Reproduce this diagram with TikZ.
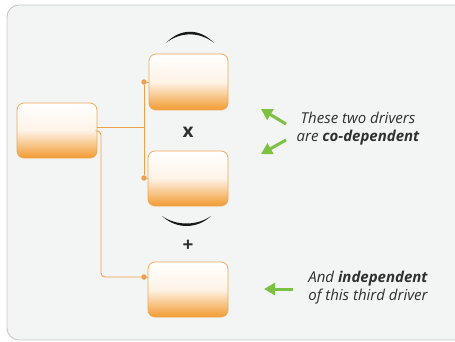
\documentclass[tikz,border=0pt]{standalone}
\usepackage{fontspec}
\setmainfont{Open Sans}
\usetikzlibrary{arrows.meta}
\definecolor{panelfill}{HTML}{F3F4F4}
\definecolor{panelline}{HTML}{C6C8C8}
\definecolor{boxorange}{HTML}{F29A30}
\definecolor{boxline}{HTML}{F2AA55}
\definecolor{wire}{HTML}{F0A048}
\definecolor{leafgreen}{HTML}{7CC142}
\definecolor{textgray}{HTML}{303030}
\tikzset{
  driver/.style={rounded corners=7pt, draw=boxline, line width=0.8pt,
    minimum width=80pt, minimum height=55pt, inner sep=0pt,
    top color=white, bottom color=boxorange, middle color=white!88!boxorange},
  wireline/.style={draw=wire, line width=0.9pt},
  joint/.style={circle, fill=wire, inner sep=0pt, minimum size=5.5pt},
  hint/.style={draw=leafgreen, line width=3pt,
    -{Triangle[width=12pt,length=11pt]}},
  note/.style={align=center, font=\itshape\fontsize{15}{18}\selectfont, text=textgray},
  sign/.style={font=\bfseries\fontsize{19}{19}\selectfont, text=textgray},
}
\begin{document}
\begin{tikzpicture}[x=1pt,y=-1pt]
\useasboundingbox (0,0) rectangle (455,342);
% panel
\draw[fill=panelfill, draw=panelline, line width=0.9pt, rounded corners=12pt]
  (7,5) rectangle (470,340);
\fill[white] (455,0) rectangle (480,345);

% driver boxes
\node[driver] (a)  at (57,130.5) {};
\node[driver, minimum width=79pt, minimum height=56pt] (b1) at (188.5,82) {};
\node[driver] (b2) at (188,178.5) {};
\node[driver] (b3) at (188,289.5) {};

% junctions
\coordinate (j) at (144,127);
\node[joint] (d1) at (144,82) {};
\node[joint] (d2) at (144,178) {};
\node[joint] (d3) at (144,277) {};

% connectors
\draw[wireline] ([yshift=3.5pt]a.east) -- (j);
\draw[wireline] (d1) -- (d2);
\draw[wireline] (d1) -- (b1.west);
\draw[wireline] (d2) -- ([yshift=0.5pt]b2.west);
\draw[wireline, rounded corners=4pt] ([yshift=-0.5pt]a.east) -| (101,200) |- (d3);
\draw[wireline] (d3) -- ([yshift=12.5pt]b3.west);

% grouping arcs
\fill[black!90] (166,43) .. controls (180,28) and (200,28) .. (214,43)
  .. controls (200,31.5) and (180,31.5) .. cycle;
\fill[black!90] (162,216) .. controls (176,229.3) and (197,229.3) .. (211,216)
  .. controls (197,226) and (176,226) .. cycle;

% operators
\node[sign] (times) at (188,132) {x};
\node[sign] (plus) at (188,246) {+};

% notes
\node[note] (t1) at (358,129) {These two drivers\\are \textbf{co-dependent}};
\node[note] (t2) at (368,287.5) {And \textbf{independent}\\of this third driver};

\coordinate (h1s) at (286,124); \coordinate (h1e) at (261,109);
\coordinate (h2s) at (286,140); \coordinate (h2e) at (261,154);
\coordinate (h3s) at (293,289); \coordinate (h3e) at (264,289);
\draw[hint] (h1s) -- (h1e);
\draw[hint] (h2s) -- (h2e);
\draw[hint] (h3s) -- (h3e);
\end{tikzpicture}
\end{document}
